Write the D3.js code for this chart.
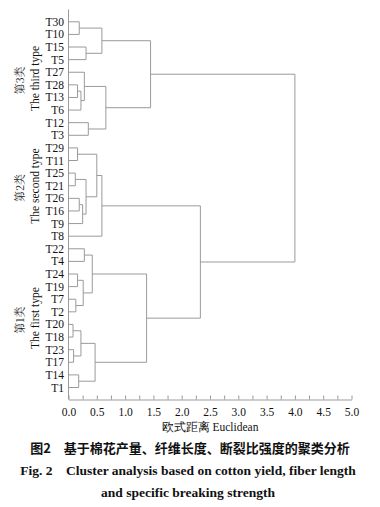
<!DOCTYPE html>
<html><head><meta charset="utf-8">
<script src="https://cdn.jsdelivr.net/npm/d3@7"></script>
<style>
html,body{margin:0;padding:0;background:#fff;}
svg{display:block;}
</style>
</head><body>
<svg id="chart" width="380" height="507"></svg>
<script>
// Leaves top to bottom
const leaves = ["T30","T10","T15","T5","T27","T28","T13","T6","T12","T3",
  "T29","T11","T25","T21","T26","T16","T9","T8",
  "T22","T4","T24","T19","T7","T2","T20","T18","T23","T17","T14","T1"];
// Merges: [childA, childB, distance]; "mN" refers to the N-th merge
const merges = [
  ["T30","T10",0.19], ["T15","T5",0.31], ["m0","m1",0.59],
  ["T28","T13",0.16], ["m3","T6",0.22], ["T27","m4",0.28],
  ["T12","T3",0.35], ["m5","m6",0.66], ["m2","m7",1.45],
  ["T29","T11",0.16], ["T25","T21",0.12], ["T26","T16",0.19],
  ["m11","T9",0.25], ["m10","m12",0.31], ["m9","m13",0.50],
  ["m14","T8",0.59],
  ["T22","T4",0.28], ["T24","T19",0.16], ["T7","T2",0.13],
  ["m17","m18",0.26], ["m16","m19",0.42],
  ["T20","T18",0.08], ["T23","T17",0.09], ["m21","m22",0.22],
  ["T14","T1",0.18], ["m23","m24",0.47], ["m20","m25",1.38],
  ["m15","m26",2.33], ["m8","m27",4.0]
];
const xTicks = d3.range(0, 5.001, 0.25);
const groupLabels = [
  {cn:"第3类", en:"The third type", from:"T30", to:"T3", shift:0},
  {cn:"第2类", en:"The second type", from:"T29", to:"T8", shift:-6},
  {cn:"第1类", en:"The first type", from:"T22", to:"T1", shift:0}
];
const axisTitle = "欧式距离  Euclidean";
const caption = ["图2\u2003基于棉花产量、纤维长度、断裂比强度的聚类分析",
  "Fig. 2\u2003Cluster analysis based on cotton yield, fiber length",
  "and specific breaking strength"];

const svg = d3.select("#chart");
svg.append("rect").attr("width",380).attr("height",507).attr("fill","#fff");
const x = d3.scaleLinear().domain([0,5]).range([68.5,351.5]);
const y = d3.scalePoint().domain(leaves).range([21.8,387.5]);
const lineCol = "#9a9a9a";
const serif = "'Liberation Serif','Times New Roman',serif";
const cjk = "'Noto Sans CJK SC',sans-serif";

// node positions
const pos = {};
leaves.forEach(l => pos[l] = {x:0, y:y(l)});
const g = svg.append("g").attr("fill","none").attr("stroke",lineCol).attr("stroke-width",1);
merges.forEach((m,i) => {
  const a = pos[m[0]], b = pos[m[1]], h = m[2];
  const path = d3.path();
  path.moveTo(x(a.x), a.y); path.lineTo(x(h), a.y);
  path.lineTo(x(h), b.y); path.lineTo(x(b.x), b.y);
  g.append("path").attr("d", path.toString());
  pos["m"+i] = {x:h, y:(a.y+b.y)/2};
});

// left axis line
svg.append("line").attr("x1",x(0)).attr("x2",x(0)).attr("y1",9.5).attr("y2",399.5)
  .attr("stroke",lineCol);

// bottom axis
const ax = d3.axisBottom(x).tickValues(xTicks).tickSizeInner(-4).tickSizeOuter(0)
  .tickPadding(8).tickFormat(d => (Math.abs(d*2-Math.round(d*2))<1e-6) ? d3.format(".1f")(d) : "");
const axG = svg.append("g").attr("transform","translate(0,399.5)").call(ax);
axG.select(".domain").attr("stroke",lineCol);
axG.selectAll(".tick line").attr("stroke",lineCol);
axG.selectAll(".tick text").attr("fill","#111").attr("font-family",serif).attr("font-size",11.5);

// leaf labels
svg.append("g").selectAll("text").data(leaves).join("text")
  .attr("x",64).attr("y",d=>y(d)).attr("dy","0.35em").attr("text-anchor","end")
  .attr("font-family",serif).attr("font-size",11.5).attr("fill","#111").text(d=>d);

// group labels
groupLabels.forEach(gl => {
  const cy = (y(gl.from)+y(gl.to))/2 + gl.shift;
  svg.append("text").attr("transform",`translate(24,${cy+2}) rotate(-90)`)
    .attr("text-anchor","middle").attr("font-family","'Noto Serif CJK SC','Noto Sans CJK SC',serif")
    .attr("font-size",11).attr("fill","#222").text(gl.cn);
  svg.append("text").attr("transform",`translate(39,${cy}) rotate(-90)`)
    .attr("text-anchor","middle").attr("font-family",serif)
    .attr("font-size",11.5).attr("fill","#111").text(gl.en);
});

// axis title
svg.append("text").attr("x",210).attr("y",431).attr("text-anchor","middle")
  .attr("font-family",serif).attr("font-size",11.5).attr("fill","#111").text(axisTitle);

// captions
svg.append("text").attr("x",190).attr("y",453).attr("text-anchor","middle")
  .attr("font-family",cjk).attr("font-weight","bold").attr("font-size",13)
  .attr("fill","#111").text(caption[0]);
svg.append("text").attr("x",188).attr("y",475).attr("text-anchor","middle")
  .attr("font-family",serif).attr("font-weight","bold").attr("font-size",13.5)
  .attr("fill","#111").text(caption[1]);
svg.append("text").attr("x",188).attr("y",497).attr("text-anchor","middle")
  .attr("font-family",serif).attr("font-weight","bold").attr("font-size",13.5)
  .attr("fill","#111").text(caption[2]);
</script>
</body></html>
